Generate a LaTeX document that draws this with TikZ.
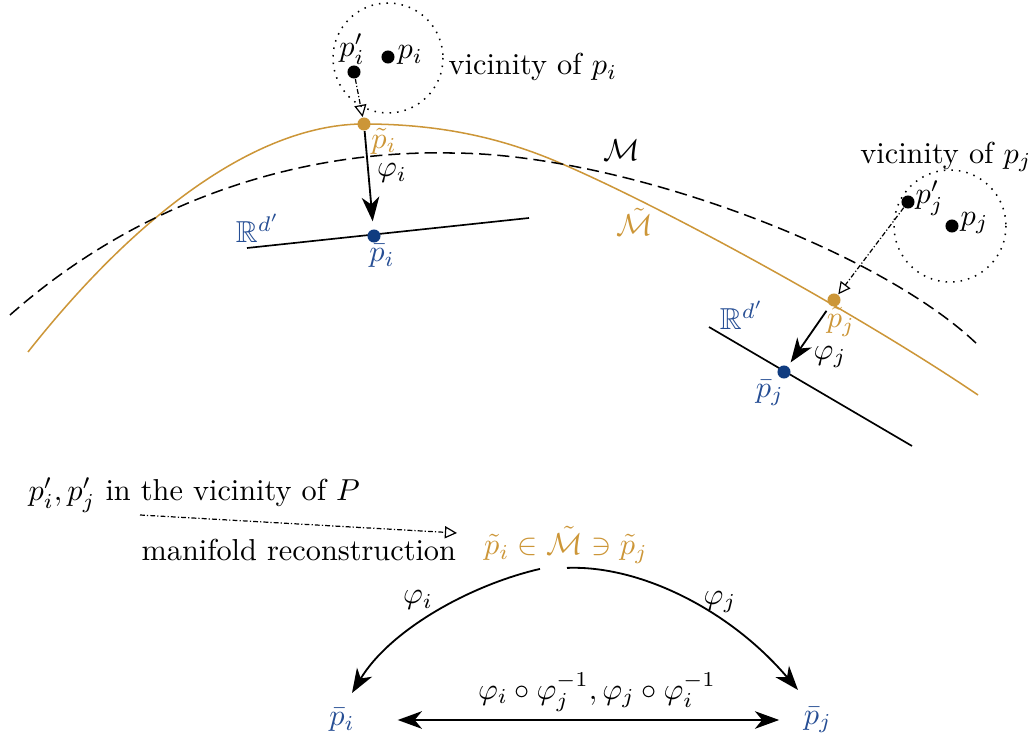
\documentclass[tikz,border=0pt]{standalone}
\usepackage{amsmath,amssymb}
\usetikzlibrary{arrows.meta,calc}
\definecolor{gold}{RGB}{204,150,56}
\definecolor{navy}{RGB}{16,60,128}
\definecolor{lblue}{RGB}{38,78,148}
\begin{document}
\begin{tikzpicture}[x=0.33pt,y=-0.33pt,
  dot/.style={circle,fill=#1,inner sep=0pt,minimum size=4.3pt},
  dot/.default=black,
  lbl/.style={inner sep=1pt},
  curve/.style={line width=0.5pt},
  map/.style={line width=0.6pt,-{Stealth[length=8pt,width=5.8pt,inset=2.4pt]}},
  recon/.style={line width=0.4pt,dash pattern=on 1.6pt off 0.7pt on 0.4pt off 0.7pt,-{Triangle[open,length=4pt,width=4pt]}},
  vic/.style={dotted,line width=0.5pt},
  chart/.style={line width=0.55pt}
]
\useasboundingbox (0,0) rectangle (1033,738);

% manifolds
\draw[curve,gold] (28,352) .. controls (140,210) and (260,124) .. (364,124)
  .. controls (440,124) and (500,138) .. (553,160)
  .. controls (660,205) and (860,315) .. (978,395);
\draw[curve,dash pattern=on 4pt off 2pt] (10,315) .. controls (140,200) and (300,150) .. (450,153)
  .. controls (620,153) and (880,250) .. (978,345);
\node[lbl] (lM) at (622,150) {$\mathcal{M}$};
\node[lbl,text=gold] (lMt) at (635,222) {$\tilde{\mathcal{M}}$};

% vicinity i
\draw[vic] (388,58) circle[radius=55];
\node[dot] (pi) at (388,57) {};
\node[lbl,anchor=west] (lpi) at (394,55) {$p_i$};
\node[dot] (ppi) at (354,72) {};
\node[lbl] (lppi) at (352,49) {$p'_i$};
\node[lbl,anchor=west] (vi) at (445,67) {vicinity of $p_i$};
\node[dot=gold] (tpi) at (364,124) {};
\node[lbl,text=gold] (ltpi) at (384,141) {$\tilde p_i$};
\draw[recon] (ppi) -- (tpi);

% chart i
\coordinate (ri1) at (247,248);
\coordinate (ri2) at (529,218);
\draw[chart] (ri1) -- (ri2);
\node[dot=navy] (bpi) at (374,236) {};
\node[lbl,text=lblue] (lbpi) at (382,256) {$\bar p_i$};
\node[lbl,text=lblue] (lRi) at (258,228) {$\mathbb{R}^{d'}$};
\draw[map,shorten >=2.5pt] (tpi) -- (bpi);
\node[lbl] (lphii) at (392,173) {$\varphi_i$};

% vicinity j
\draw[vic] (950,226) circle[radius=56];
\node[lbl] (vj) at (946,157) {vicinity of $p_j$};
\node[dot] (ppj) at (908,202) {};
\node[lbl,anchor=west] (lppj) at (912,198) {$p'_j$};
\node[dot] (pj) at (952,226) {};
\node[lbl,anchor=west] (lpj) at (957,223) {$p_j$};
\node[dot=gold] (tpj) at (834,300) {};
\node[lbl,text=gold] (ltpj) at (841,322) {$\tilde p_j$};
\draw[recon] (ppj) -- (tpj);

% chart j
\coordinate (rj1) at (709,327);
\coordinate (rj2) at (912,446);
\draw[chart] (rj1) -- (rj2);
\node[dot=navy] (bpj) at (784,372) {};
\node[lbl,text=lblue] (lbpj) at (770,393) {$\bar p_j$};
\node[lbl,text=lblue] (lRj) at (742,315) {$\mathbb{R}^{d'}$};
\draw[map,shorten >=1.5pt,shorten <=2pt] (tpj) -- (bpj);
\node[lbl] (lphij) at (830,357) {$\varphi_j$};

% bottom diagram
\node[lbl,anchor=west] (t1) at (25,495) {$p'_i,p'_j$ in the vicinity of $P$};
\node[lbl,anchor=west] (t2) at (138,550) {manifold reconstruction};
\coordinate (a1) at (140,515);
\coordinate (a2) at (457,533);
\draw[recon] (a1) -- (a2);
\node[lbl,text=gold] (top) at (566,545) {$\tilde p_i\in\tilde{\mathcal{M}}\ni\tilde p_j$};
\node[lbl,text=lblue] (bbi) at (342,720) {$\bar p_i$};
\node[lbl,text=lblue] (bbj) at (818,720) {$\bar p_j$};
\draw[map] ($(top.south)+(-26,2)$) .. controls (470,585) and (390,630) .. ($(bbi)+(10,-27)$);
\draw[map] ($(top.south)+(1,1)$) .. controls (640,565) and (730,610) .. ($(bbj)+(-20,-30)$);
\node[lbl] (lfi) at (418,600) {$\varphi_i$};
\node[lbl] (lfj) at (720,602) {$\varphi_j$};
\draw[line width=0.6pt,{Stealth[length=8pt,width=5.8pt,inset=2.4pt]}-{Stealth[length=8pt,width=5.8pt,inset=2.4pt]},shorten <=13pt,shorten >=7pt] (bbi.east) -- (bbj.west)
  node[pos=0.54,above=-1pt] (lcomp) {$\varphi_i\circ\varphi_j^{-1},\varphi_j\circ\varphi_i^{-1}$};
\end{tikzpicture}
\end{document}
